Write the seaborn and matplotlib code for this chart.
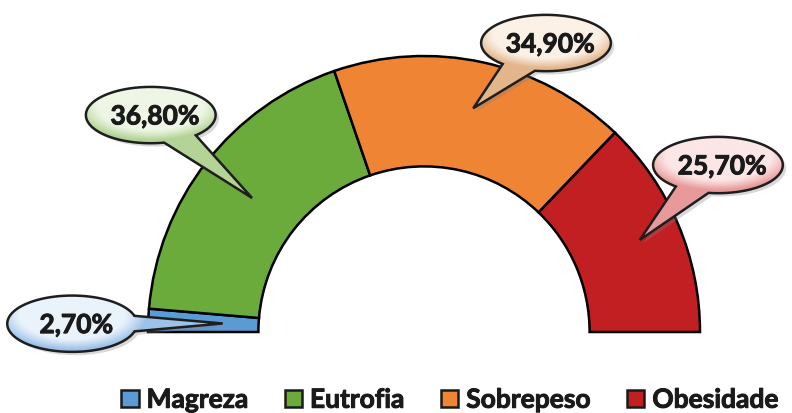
import numpy as np
import matplotlib
matplotlib.use("Agg")
import matplotlib.pyplot as plt
import matplotlib.patheffects as pe
import seaborn as sns
from matplotlib.path import Path
from matplotlib.patches import PathPatch, Patch
from matplotlib.colors import LinearSegmentedColormap

# Data
categories = ["Magreza", "Eutrofia", "Sobrepeso", "Obesidade"]
values = [2.70, 36.80, 34.90, 25.70]
labels = ["2,70%", "36,80%", "34,90%", "25,70%"]

# Styles
colors = ["#5b9bd5", "#6aab3c", "#ee8434", "#c21f22"]
bubble_light = ["#eaf3fb", "#eef6e6", "#fcf1e6", "#fce6e6"]
bubble_dark = ["#9dc2e8", "#b4d396", "#e3b68c", "#e89a9a"]
bubble_centers = [(-1.275, 0.03), (-0.99, 0.786), (0.442, 1.047), (1.065, 0.605)]
tip_radius = [0.73, 0.79, 0.83, 0.85]
bubble_a, bubble_b = 0.235, 0.102

sns.set_theme(style="white")
plt.rcParams['font.family'] = ['Lato', 'DejaVu Sans']
thick = [pe.withStroke(linewidth=0.7, foreground="#1a1a1a")]

fig = plt.figure(figsize=(7.92, 4.14), dpi=100)
ax = fig.add_axes([0, 0, 1, 1])

# half donut: the hidden lower half has the same size as the visible data
total = sum(values)
wedges, _ = ax.pie(values + [total], colors=colors + ["white"], startangle=180,
                   counterclock=False, radius=1,
                   wedgeprops=dict(width=0.4, edgecolor="black", linewidth=1.8))
wedges[-1].set_visible(False)

ax.set_aspect("equal")
ax.axis("off")


def bubble(ax, center, tip, light, dark, text):
    cx, cy = center
    tx, ty = tip
    a, b = bubble_a, bubble_b
    phi = np.arctan2((ty - cy) / b, (tx - cx) / a)
    d = 0.28
    t = np.linspace(phi + d, phi - d + 2 * np.pi, 240)
    xs = np.r_[cx + a * np.cos(t), tx, cx + a * np.cos(t[0])]
    ys = np.r_[cy + b * np.sin(t), ty, cy + b * np.sin(t[0])]
    verts = np.column_stack([xs, ys])
    path = Path(verts, closed=True)

    # soft shadow
    sh = Path(verts + np.array([0.012, -0.012]), closed=True)
    ax.add_patch(PathPatch(sh, facecolor="#808080", edgecolor="none", alpha=0.3, zorder=3))

    clip = PathPatch(path, facecolor="none", edgecolor="none", zorder=4)
    ax.add_patch(clip)
    x0, x1 = xs.min(), xs.max()
    y0, y1 = ys.min(), ys.max()
    gx, gy = np.meshgrid(np.linspace(x0, x1, 200), np.linspace(y0, y1, 200))
    val = ((gx - cx) / (1.15 * a)) ** 2 + ((gy - (cy + 0.3 * b)) / (1.2 * b)) ** 2
    val = np.clip(val, 0, 1)
    cmap = LinearSegmentedColormap.from_list("g", [light, light, dark])
    im = ax.imshow(val, extent=(x0, x1, y0, y1), origin="lower", cmap=cmap,
                   vmin=0, vmax=1, zorder=4, interpolation="bilinear", aspect="auto")
    im.set_clip_path(clip)
    ax.add_patch(PathPatch(path, facecolor="none", edgecolor="#1e1e1e", linewidth=1.8, zorder=5))
    ax.text(cx + 0.015, cy - 0.005, text, ha="center", va="center", fontsize=19,
            fontweight="bold", color="#1a1a1a", zorder=6, path_effects=thick)


for w, lab, cen, r, lc, dc in zip(wedges[:-1], labels, bubble_centers, tip_radius,
                                  bubble_light, bubble_dark):
    mid = np.deg2rad((w.theta1 + w.theta2) / 2)
    tip = (r * np.cos(mid), r * np.sin(mid))
    bubble(ax, cen, tip, lc, dc, lab)

ax.set_xlim(-424 / 276, 368 / 276)
ax.set_ylim(-81 / 276, 333 / 276)

handles = [Patch(facecolor=c, edgecolor="#1a1a1a", linewidth=1.8) for c in colors]
leg = fig.legend(handles, categories, loc="center", bbox_to_anchor=(0.568, 0.032), ncol=4,
                 frameon=False, prop=dict(weight="bold", size=19), handlelength=0.65,
                 handleheight=0.65, handletextpad=0.3, columnspacing=1.4, labelcolor="#1a1a1a")
for txt in leg.get_texts():
    txt.set_path_effects(thick)

fig.savefig("out.png", dpi=100)
